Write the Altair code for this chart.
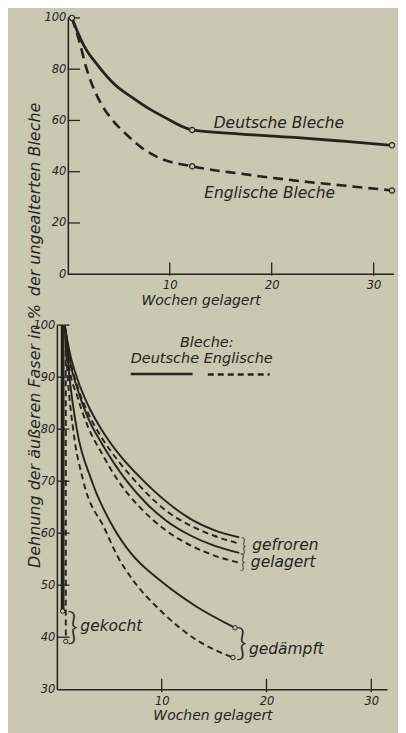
import altair as alt
import pandas as pd

BG = "#c9c8b1"
INK = "#24241e"
FONT = "DejaVu Sans"

Y_TITLE_PARTS = ["Dehnung der äußeren Faser in %", "der ungealterten Bleche"]
X_TITLE = "Wochen gelagert"

# ---------------- upper panel data ----------------
TOP_X_LABELS = [10, 20, 30]
TOP_Y_LABELS = [0, 20, 40, 60, 80, 100]
TOP_Y_TICKS = [20, 40, 60, 80, 100]
TOP_X_END = 32

TOP_DE_WEEKS = [0.4, 1.5, 3.1, 4.6, 6.3, 8.0, 9.5, 12.2, 17.0, 22.2, 27.0, 31.8]
TOP_DE_VALUES = [100, 89.8, 80.7, 74.0, 69.0, 64.5, 61.2, 56.3, 54.7, 53.4, 51.9, 50.3]
TOP_EN_WEEKS = [0.4, 1.2, 1.8, 3.1, 4.3, 5.7, 7.2, 8.85, 12.2, 17.0, 22.2, 27.0, 31.8]
TOP_EN_VALUES = [100, 89.8, 80.7, 67.7, 60.5, 54.7, 49.5, 45.6, 42.1, 39.2, 36.6, 34.6, 32.7]

TOP_MARK_WEEKS = [0.4, 12.2, 31.8, 12.2, 31.8]
TOP_MARK_VALUES = [100, 56.3, 50.3, 42.1, 32.7]

TOP_LABELS = ["Deutsche Bleche", "Englische Bleche"]
TOP_LABEL_WEEKS = [20.7, 19.8]
TOP_LABEL_VALUES = [59.1, 31.5]

# ---------------- lower panel data ----------------
BOT_X_LABELS = [10, 20, 30]
BOT_Y_LABELS = [30, 40, 50, 60, 70, 80, 90, 100]
BOT_Y_TICKS = [40, 50, 60, 70, 80, 90, 100]

GEFROREN_D_W = [0.75, 1.2, 2.0, 3.0, 4.3, 6.0, 8.2, 10.3, 12.7, 15.0, 17.4]
GEFROREN_D_V = [100, 95.0, 89.4, 84.5, 79.8, 75.0, 70.2, 66.3, 62.8, 60.6, 59.2]
GEFROREN_E_W = [0.75, 1.2, 2.0, 3.0, 4.3, 6.0, 7.4, 10.3, 12.7, 15.0, 17.4]
GEFROREN_E_V = [100, 94.0, 88.0, 83.0, 78.3, 73.5, 70.2, 64.5, 61.5, 59.5, 58.0]
GELAGERT_D_W = [0.75, 1.2, 2.0, 3.0, 4.3, 6.6, 8.5, 10.5, 12.7, 15.0, 17.4]
GELAGERT_D_V = [100, 93.5, 87.5, 82.0, 77.2, 70.2, 65.8, 62.3, 59.6, 57.6, 56.2]
GELAGERT_E_W = [0.75, 1.1, 2.0, 3.0, 4.3, 5.8, 8.0, 10.3, 12.7, 15.0, 17.4]
GELAGERT_E_V = [100, 93.0, 86.0, 80.3, 75.3, 70.2, 64.8, 60.7, 57.7, 55.7, 54.3]
GEDAEMPFT_D_W = [0.75, 1.2, 1.9, 3.3, 5.5, 7.0, 10.1, 13.3, 17.0]
GEDAEMPFT_D_V = [100, 90.0, 80.0, 70.2, 60.7, 56.3, 50.5, 45.9, 41.8]
GEDAEMPFT_E_W = [0.75, 1.0, 1.55, 2.5, 4.6, 5.8, 7.0, 10.1, 13.3, 16.8]
GEDAEMPFT_E_V = [100, 91.0, 80.0, 70.2, 60.7, 55.5, 51.7, 44.7, 39.5, 36.1]
GEKOCHT_D_W = [0.55, 0.55]
GEKOCHT_D_V = [100, 45.0]
GEKOCHT_E_W = [0.85, 0.85]
GEKOCHT_E_V = [99, 39.2]

BOT_MARK_WEEKS = [17.0, 16.8, 0.55, 0.85]
BOT_MARK_VALUES = [41.8, 36.1, 45.0, 39.2]

LEGEND_TEXTS = ["Bleche:", "Deutsche", "Englische"]
LEGEND_TEXT_WEEKS = [14.3, 10.3, 17.3]
LEGEND_TEXT_VALUES = [96.6, 93.4, 93.4]
LEGEND_LINE_BLECH = ["Deutsche", "Englische"]
LEGEND_LINE_FROM = [7.05, 14.4]
LEGEND_LINE_TO = [12.95, 20.3]
LEGEND_LINE_VALUE = [90.6, 90.5]

ANNO_TEXTS = ["gefroren", "gelagert", "gedämpft", "gekocht"]
ANNO_WEEKS = [21.8, 21.6, 21.9, 5.2]
ANNO_VALUES = [57.8, 54.4, 37.8, 42.2]
BRACE_WEEKS = [17.8, 17.7, 17.6, 1.5]
BRACE_VALUES = [57.6, 54.4, 38.7, 41.8]
BRACE_SIZES = [20, 20, 38, 38]

TICK_LEN_W = 1.2          # length of inward y ticks (weeks)
TOP_XTICK = [-0.6, 4.6]   # extent of x ticks (value units)
BOT_XTICK = [29.4, 32.0]


def curves_df(curves):
    rows = []
    for name, blech, weeks, values in curves:
        for i, (w, v) in enumerate(zip(weeks, values)):
            rows.append({"kurve": name, "blech": blech, "woche": w, "wert": v, "i": i})
    return pd.DataFrame(rows)


# ================= upper panel =================
top_lines = curves_df([
    ("de", "Deutsche", TOP_DE_WEEKS, TOP_DE_VALUES),
    ("en", "Englische", TOP_EN_WEEKS, TOP_EN_VALUES),
])

X_TOP = alt.X(
    "woche:Q",
    scale=alt.Scale(domain=[-1.075, 32], nice=False, zero=False),
    axis=alt.Axis(values=TOP_X_LABELS, domain=False, ticks=False, grid=False,
                  labelPadding=5, labelFlush=False, title=X_TITLE,
                  titleX=144, titleY=26, titleBaseline="middle", titleAlign="center"),
)
Y_TOP = alt.Y(
    "wert:Q",
    scale=alt.Scale(domain=[0, 100], nice=False),
    axis=alt.Axis(values=TOP_Y_LABELS, offset=-11, ticks=False, grid=False,
                  labelPadding=2, labelFlush=False, title=None),
)

top_base = alt.Chart(top_lines).encode(x=X_TOP, y=Y_TOP, detail="kurve:N", order="i:Q")
top_de = top_base.transform_filter(alt.datum.blech == "Deutsche").mark_line(
    color=INK, strokeWidth=2.8, interpolate="monotone")
top_en = top_base.transform_filter(alt.datum.blech == "Englische").mark_line(
    color=INK, strokeWidth=2.6, strokeDash=[10, 6], interpolate="monotone")

top_marks = alt.Chart(pd.DataFrame({"woche": TOP_MARK_WEEKS, "wert": TOP_MARK_VALUES})).mark_point(
    shape="circle", filled=True, fill=BG, stroke=INK, strokeWidth=1.2, size=28, opacity=1
).encode(x=X_TOP, y=Y_TOP)

top_yticks = alt.Chart(pd.DataFrame({"wert": TOP_Y_TICKS, "woche": [0] * len(TOP_Y_TICKS),
                                     "woche2": [TICK_LEN_W] * len(TOP_Y_TICKS)})).mark_rule(
    color=INK, strokeWidth=1.3).encode(y=Y_TOP, x=X_TOP, x2="woche2:Q")
top_xticks = alt.Chart(pd.DataFrame({"woche": TOP_X_LABELS, "wert": [TOP_XTICK[0]] * 3,
                                     "wert2": [TOP_XTICK[1]] * 3})).mark_rule(
    color=INK, strokeWidth=1.3).encode(x=X_TOP, y=Y_TOP, y2="wert2:Q")
top_xaxis = alt.Chart(pd.DataFrame({"woche": [0], "woche2": [TOP_X_END], "wert": [0]})).mark_rule(
    color=INK, strokeWidth=1.5).encode(x=X_TOP, x2="woche2:Q", y=Y_TOP)

top_text = alt.Chart(pd.DataFrame({"t": TOP_LABELS, "woche": TOP_LABEL_WEEKS, "wert": TOP_LABEL_VALUES})).mark_text(
    font=FONT, fontStyle="italic", fontSize=15.5, color=INK
).encode(x=X_TOP, y=Y_TOP, text="t:N")

# upper half of the shared y title (reads bottom to top)
y_title_top = alt.Chart(pd.DataFrame({"t": [Y_TITLE_PARTS[1]]})).mark_text(
    font=FONT, fontStyle="italic", fontSize=16, color=INK, angle=270, align="center"
).encode(text="t:N", x=alt.value(-22), y=alt.value(182))

top = alt.layer(top_de, top_en, top_xaxis, top_yticks, top_xticks, top_marks, top_text,
                y_title_top).properties(width=338, height=257)

# ================= lower panel =================
bot_lines = curves_df([
    ("gefroren_d", "Deutsche", GEFROREN_D_W, GEFROREN_D_V),
    ("gefroren_e", "Englische", GEFROREN_E_W, GEFROREN_E_V),
    ("gelagert_d", "Deutsche", GELAGERT_D_W, GELAGERT_D_V),
    ("gelagert_e", "Englische", GELAGERT_E_W, GELAGERT_E_V),
    ("gedaempft_d", "Deutsche", GEDAEMPFT_D_W, GEDAEMPFT_D_V),
    ("gedaempft_e", "Englische", GEDAEMPFT_E_W, GEDAEMPFT_E_V),
    ("gekocht_d", "Deutsch-gekocht", GEKOCHT_D_W, GEKOCHT_D_V),
    ("gekocht_e", "Englische", GEKOCHT_E_W, GEKOCHT_E_V),
])

X_BOT = alt.X(
    "woche:Q",
    scale=alt.Scale(domain=[0, 31.5], nice=False, zero=False),
    axis=alt.Axis(values=BOT_X_LABELS, ticks=False, grid=False, labelPadding=6, labelFlush=False,
                  title=X_TITLE, titleX=156, titleY=26, titleBaseline="middle", titleAlign="center"),
)
Y_BOT = alt.Y(
    "wert:Q",
    scale=alt.Scale(domain=[30, 100], nice=False, zero=False),
    axis=alt.Axis(values=BOT_Y_LABELS, ticks=False, grid=False, labelPadding=2, labelFlush=False, title=None),
)

bot_base = alt.Chart(bot_lines).encode(x=X_BOT, y=Y_BOT, detail="kurve:N", order="i:Q")
bot_de = bot_base.transform_filter(alt.datum.blech == "Deutsche").mark_line(
    color=INK, strokeWidth=1.9, interpolate="monotone")
bot_en = bot_base.transform_filter(alt.datum.blech == "Englische").mark_line(
    color=INK, strokeWidth=1.9, strokeDash=[6, 4], interpolate="monotone")
bot_gk = bot_base.transform_filter(alt.datum.blech == "Deutsch-gekocht").mark_line(
    color=INK, strokeWidth=3.8)

bot_marks = alt.Chart(pd.DataFrame({"woche": BOT_MARK_WEEKS, "wert": BOT_MARK_VALUES})).mark_point(
    shape="circle", filled=True, fill=BG, stroke=INK, strokeWidth=1.0, size=20, opacity=1
).encode(x=X_BOT, y=Y_BOT)

bot_yticks = alt.Chart(pd.DataFrame({"wert": BOT_Y_TICKS, "woche": [0] * len(BOT_Y_TICKS),
                                     "woche2": [TICK_LEN_W] * len(BOT_Y_TICKS)})).mark_rule(
    color=INK, strokeWidth=1.3).encode(y=Y_BOT, x=X_BOT, x2="woche2:Q")
bot_xticks = alt.Chart(pd.DataFrame({"woche": BOT_X_LABELS, "wert": [BOT_XTICK[0]] * 3,
                                     "wert2": [BOT_XTICK[1]] * 3})).mark_rule(
    color=INK, strokeWidth=1.3).encode(x=X_BOT, y=Y_BOT, y2="wert2:Q")

legend_lines = pd.DataFrame({"blech": LEGEND_LINE_BLECH, "woche": LEGEND_LINE_FROM,
                             "woche2": LEGEND_LINE_TO, "wert": LEGEND_LINE_VALUE})
leg_de = alt.Chart(legend_lines).transform_filter(alt.datum.blech == "Deutsche").mark_rule(
    color=INK, strokeWidth=2.6).encode(x=X_BOT, x2="woche2:Q", y=Y_BOT)
leg_en = alt.Chart(legend_lines).transform_filter(alt.datum.blech == "Englische").mark_rule(
    color=INK, strokeWidth=2.4, strokeDash=[6, 4]).encode(x=X_BOT, x2="woche2:Q", y=Y_BOT)
leg_text = alt.Chart(pd.DataFrame({"t": LEGEND_TEXTS, "woche": LEGEND_TEXT_WEEKS,
                                   "wert": LEGEND_TEXT_VALUES})).mark_text(
    font=FONT, fontStyle="italic", fontSize=14.5, color=INK
).encode(x=X_BOT, y=Y_BOT, text="t:N")

anno = alt.Chart(pd.DataFrame({"t": ANNO_TEXTS, "woche": ANNO_WEEKS, "wert": ANNO_VALUES})).mark_text(
    font=FONT, fontStyle="italic", fontSize=15.5, color=INK
).encode(x=X_BOT, y=Y_BOT, text="t:N")

braces = alt.Chart(pd.DataFrame({"t": ["}"] * 4, "woche": BRACE_WEEKS, "wert": BRACE_VALUES,
                                 "s": BRACE_SIZES})).mark_text(
    font="Lato", fontWeight=300, color=INK, fill=INK
).encode(x=X_BOT, y=Y_BOT, text="t:N", size=alt.Size("s:Q", scale=None, legend=None))

# lower half of the shared y title: its end meets the upper half
y_title_bot = alt.Chart(pd.DataFrame({"t": [Y_TITLE_PARTS[0]]})).mark_text(
    font=FONT, fontStyle="italic", fontSize=16, color=INK, angle=270, align="right"
).encode(text="t:N", x=alt.value(-22), y=alt.value(-21))

bottom = alt.layer(bot_de, bot_en, bot_gk, bot_yticks, bot_xticks, bot_marks,
                   leg_de, leg_en, leg_text, anno, braces, y_title_bot).properties(width=331, height=365)

chart = alt.vconcat(top, bottom, spacing=51, bounds="flush").properties(
    background=BG,
    padding={"left": 19, "top": 3, "right": 0, "bottom": 12},
).configure_view(strokeWidth=0).configure_axis(
    labelFont=FONT, labelFontStyle="italic", labelFontSize=11.5, labelColor=INK,
    domainColor=INK, domainWidth=1.5,
    titleFont=FONT, titleFontStyle="italic", titleFontWeight="normal", titleFontSize=14, titleColor=INK,
)

chart.save("out.html", embed_options={"renderer": "svg", "actions": False})
